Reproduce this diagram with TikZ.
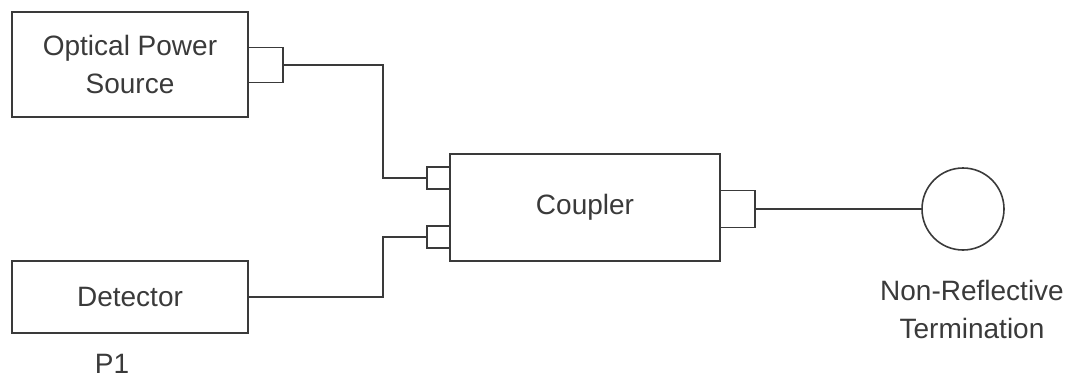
\documentclass[tikz,border=0pt]{standalone}
\usepackage{fontspec}
\setmainfont{Liberation Sans}
\usepackage{tikz}
\usetikzlibrary{positioning, calc}
\definecolor{mLine}{HTML}{3A3A3A}

\begin{document}
\begin{tikzpicture}[x=1pt, y=-1pt,
      every node/.style={font=\fontsize{28}{38}\selectfont, text=mLine},
      unit/.style={draw=mLine, line width=1.6pt, minimum width=236pt, inner sep=0pt},
      port/.style={draw=mLine, line width=1.6pt, inner sep=0pt},
      fibre/.style={draw=mLine, line width=1.8pt}]
    \useasboundingbox (0,0) rectangle (1076,381);
    % boxes
    \node[unit, minimum height=105pt, align=center] (src) at (130,64.5) {Optical Power\\Source};
    \node[unit, minimum height=72pt] (det) at (130,297) {Detector};
    \node[unit, minimum width=270pt, minimum height=107pt] (cpl) at (585,207.5) {Coupler};
    \node[draw=mLine, line width=1.6pt, circle, minimum size=82pt, inner sep=0pt] (term) at (963,209) {};
    % ports
    \node[port, minimum width=35pt, minimum height=35pt] (srcport) at (265.5,65) {};
    \node[port, minimum width=23pt, minimum height=22pt] (inA) at (438.5,178) {};
    \node[port, minimum width=23pt, minimum height=22pt] (inB) at (438.5,237) {};
    \node[port, minimum width=35pt, minimum height=37pt] (outport) at (737.5,209) {};
    % labels
    \node (p1) at (112,364) {P1};
    \node[align=center] (termlbl) at (972,309) {Non-Reflective\\Termination};
    % fibres
    \coordinate (bend) at (383,0);
    \draw[fibre] (srcport.east) -- (srcport.east -| bend) |- (inA.west);
    \draw[fibre] (det.east) -- (det.east -| bend) |- (inB.west);
    \draw[fibre] (outport.east) -- (term.west);
  \end{tikzpicture}
\end{document}
